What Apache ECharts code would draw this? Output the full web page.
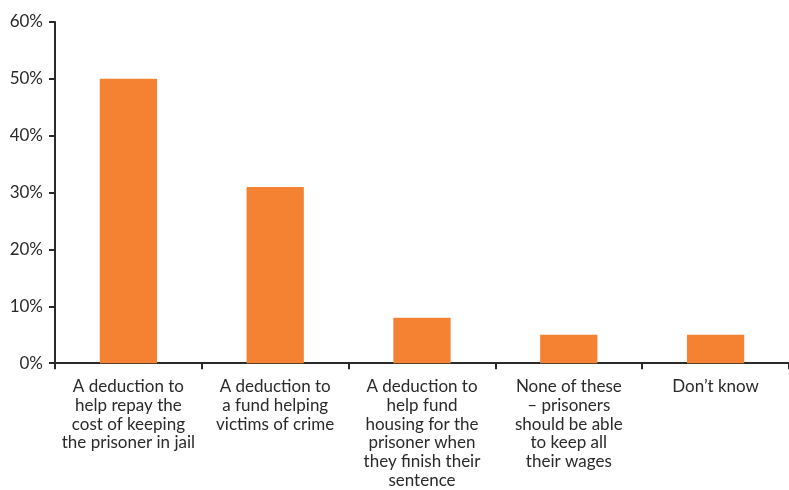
<!DOCTYPE html>
<html><head><meta charset="utf-8">
<script src="https://cdn.jsdelivr.net/npm/echarts@6/dist/echarts.min.js"></script>
<style>html,body{margin:0;padding:0;background:#fff}#c{width:789px;height:490px}</style>
</head><body><div id="c"></div>
<script>
const categories = [
  "A deduction to\nhelp repay the\ncost of keeping\nthe prisoner in jail",
  "A deduction to\na fund helping\nvictims of crime",
  "A deduction to\nhelp fund\nhousing for the\nprisoner when\nthey finish their\nsentence",
  "None of these\n– prisoners\nshould be able\nto keep all\ntheir wages",
  "Don\u2019t know"
];
const values = [50, 31, 8, 5, 5];
const yTicks = [0, 10, 20, 30, 40, 50, 60];

const chart = echarts.init(document.getElementById('c'), null, {renderer: 'canvas'});
const font = 'Lato, "Open Sans", sans-serif';
chart.setOption({
  animation: false,
  grid: {left: 55, top: 22, width: 742, height: 345, containLabel: false},
  xAxis: {
    type: 'category',
    data: categories,
    axisLine: {lineStyle: {color: '#2a2a2a', width: 2}},
    axisTick: {show: true, length: 6, lineStyle: {color: '#2a2a2a', width: 2}},
    axisLabel: {color: '#2a2a2a', fontSize: 17, fontFamily: font, lineHeight: 18.8, margin: 14, interval: 0, align: 'center'}
  },
  yAxis: {
    type: 'value',
    min: yTicks[0], max: yTicks[yTicks.length - 1], interval: 10,
    splitLine: {show: false},
    axisLine: {show: true, lineStyle: {color: '#2a2a2a', width: 2}},
    axisTick: {show: true, length: 6, lineStyle: {color: '#2a2a2a', width: 2}},
    axisLabel: {color: '#2a2a2a', fontSize: 17, fontFamily: font, margin: 12, formatter: v => v + '%'}
  },
  series: [{
    type: 'bar',
    data: values,
    barWidth: '39%',
    itemStyle: {color: '#F58233'}
  }]
});
</script></body></html>
